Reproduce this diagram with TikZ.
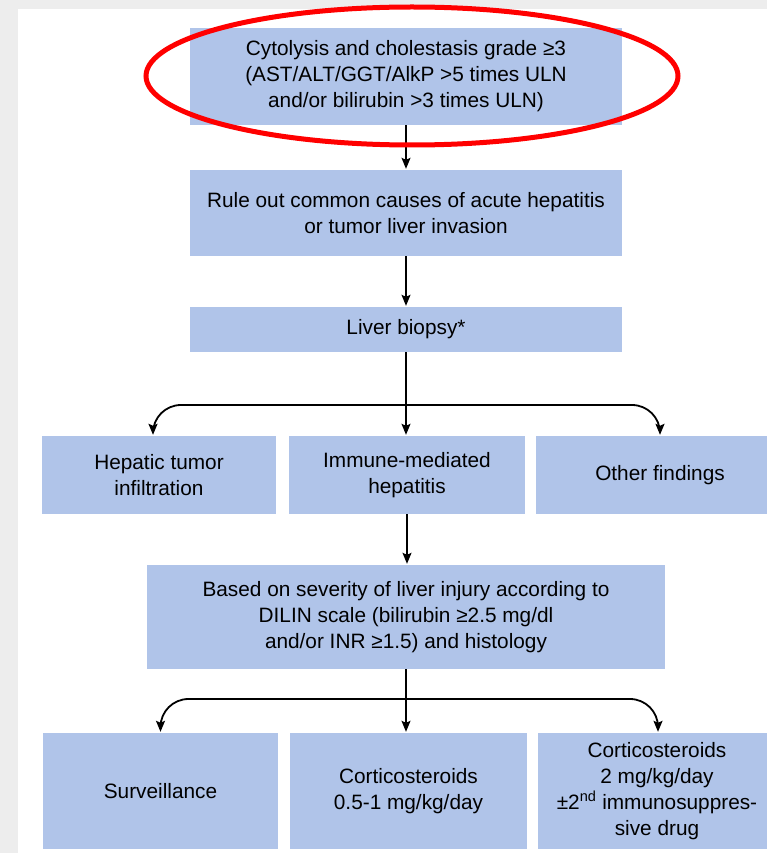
\documentclass[tikz,border=0pt]{standalone}
\usepackage{fontspec}
\setmainfont{Liberation Sans}
\usetikzlibrary{positioning,arrows.meta}
\definecolor{boxblue}{RGB}{176,196,233}

\begin{document}
\begin{tikzpicture}[
    x=1pt, y=-1pt,
    >={Stealth[length=11pt,width=9pt,inset=2pt]},
    box/.style={fill=boxblue, align=center, inner sep=0pt,
        font=\fontsize{20.8}{26}\selectfont},
    arr/.style={->, line width=1.3pt, shorten >=1pt},
    branch/.style={arr, line width=1.8pt, rounded corners=28}
]

\useasboundingbox (0,0) rectangle (767,853);
\fill[black!7] (0,0) rectangle (767,853);
\fill[white] (18,9) rectangle (767,853);

% main column
\node[box, minimum width=432, minimum height=97] (grade) at (406,76.5)
    {Cytolysis and cholestasis grade ≥3\\(AST/ALT/GGT/AlkP >5 times ULN\\and/or bilirubin >3 times ULN)};
\node[box, minimum width=432, minimum height=86] (rule) at (406,213)
    {Rule out common causes of acute hepatitis\\or tumor liver invasion};
\node[box, minimum width=432, minimum height=45] (biopsy) at (406,329.5)
    {Liver biopsy*};

% findings
\node[box, minimum width=234, minimum height=78] (tumor) at (159,475)
    {Hepatic tumor\\infiltration};
\node[box, minimum width=236, minimum height=78] (immune) at (407,475)
    {Immune-mediated\\hepatitis};
\node[box, minimum width=248, minimum height=78] (other) at (660,475)
    {Other findings};

\node[box, minimum width=518, minimum height=104] (severity) at (406,617)
    {Based on severity of liver injury according to\\DILIN scale (bilirubin ≥2.5 mg/dl\\and/or INR ≥1.5) and histology};

% treatment
\node[box, minimum width=235, minimum height=116] (surv) at (160.5,791)
    {Surveillance};
\node[box, minimum width=237, minimum height=116] (cslow) at (408.5,791)
    {Corticosteroids\\0.5-1 mg/kg/day};
\node[box, minimum width=238, minimum height=116] (cshigh) at (657,791)
    {Corticosteroids\\2 mg/kg/day\\±2\textsuperscript{nd} immunosuppres-\\sive drug};

\coordinate (split1) at (406,405);
\coordinate (split2) at (406,699);

\draw[arr] (grade.south) -- (rule.north);
\draw[arr] (rule.south) -- (biopsy.north);
\draw[arr] (biopsy.south) -- (biopsy.south |- immune.north);
\draw[branch] (split1) -| ([xshift=-6]tumor.north);
\draw[branch] (split1) -| (other.north);

\draw[arr] (immune.south) -- (immune.south |- severity.north);
\draw[arr] (severity.south) -- (severity.south |- cslow.north);
\draw[branch] (split2) -| (surv.north);
\draw[branch] (split2) -| ([xshift=1]cshigh.north);

% highlight
\draw[red, line width=5pt] (412,76) ellipse [x radius=266, y radius=69];

\end{tikzpicture}
\end{document}
